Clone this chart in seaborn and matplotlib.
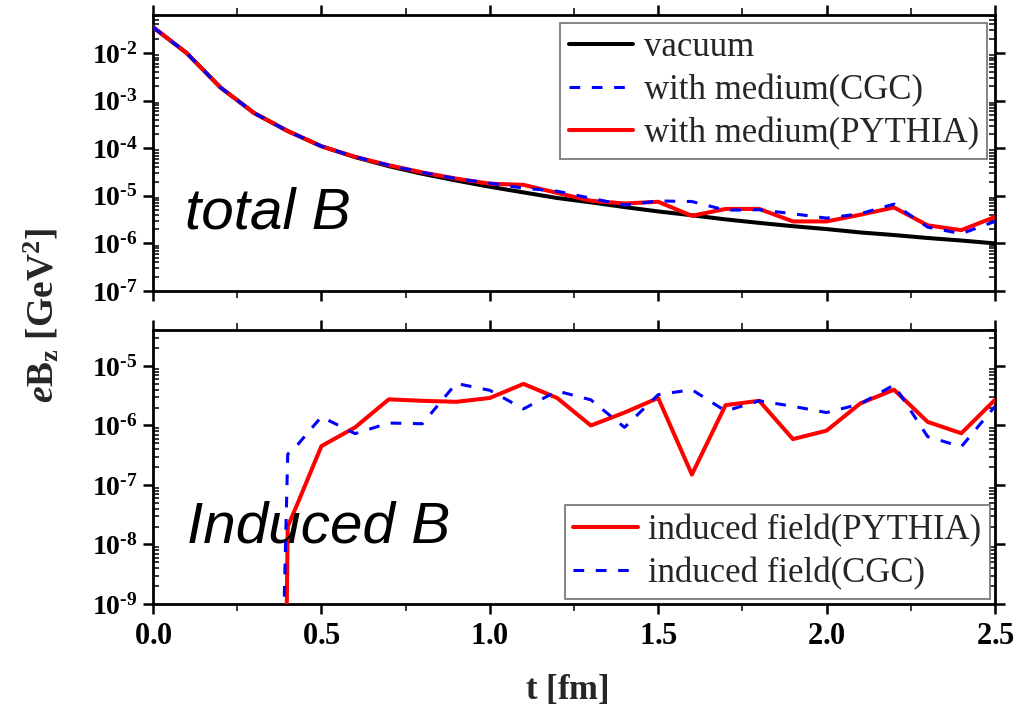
import numpy as np
import pandas as pd
import matplotlib
matplotlib.use("Agg")
import matplotlib.pyplot as plt
import seaborn as sns
from matplotlib.ticker import LogLocator, FixedLocator, FuncFormatter, NullFormatter

# ---------------- data ----------------
t_total = [0.0, 0.1, 0.2, 0.3, 0.4, 0.5, 0.6, 0.7, 0.8, 0.9, 1.0, 1.1, 1.2,
           1.3, 1.4, 1.5, 1.6, 1.7, 1.8, 1.9, 2.0, 2.1, 2.2, 2.3, 2.4, 2.5]
vacuum = [3.5e-2, 1.0e-2, 1.9e-3, 5.5e-4, 2.3e-4, 1.1e-4, 6.5e-5, 4.2e-5, 2.9e-5,
          2.1e-5, 1.55e-5, 1.18e-5, 9.0e-6, 7.3e-6, 5.8e-6, 4.7e-6, 3.9e-6, 3.2e-6,
          2.7e-6, 2.3e-6, 2.0e-6, 1.7e-6, 1.5e-6, 1.3e-6, 1.15e-6, 1.0e-6]
medium_cgc = [3.5e-2, 1.0e-2, 1.9e-3, 5.5e-4, 2.3e-4, 1.1e-4, 6.6e-5, 4.4e-5, 3.1e-5,
              2.3e-5, 1.85e-5, 1.45e-5, 1.25e-5, 8.9e-6, 6.4e-6, 7.8e-6, 7.6e-6, 5.0e-6,
              5.1e-6, 4.2e-6, 3.4e-6, 4.2e-6, 6.7e-6, 2.2e-6, 1.6e-6, 2.9e-6]
medium_pythia = [3.5e-2, 1.0e-2, 1.9e-3, 5.5e-4, 2.3e-4, 1.1e-4, 6.6e-5, 4.4e-5, 3.1e-5,
                 2.3e-5, 1.8e-5, 1.7e-5, 1.15e-5, 7.9e-6, 6.9e-6, 7.5e-6, 3.8e-6, 5.3e-6,
                 5.3e-6, 2.9e-6, 2.9e-6, 4.0e-6, 5.7e-6, 2.4e-6, 1.9e-6, 3.6e-6]

t_ind_pythia = [0.395, 0.40, 0.43, 0.5, 0.6, 0.7, 0.8, 0.9, 1.0, 1.1, 1.2, 1.3, 1.4,
                1.5, 1.6, 1.7, 1.8, 1.9, 2.0, 2.1, 2.2, 2.3, 2.4, 2.5]
ind_pythia = [1e-10, 2.0e-8, 5.0e-8, 4.5e-7, 9.3e-7, 2.75e-6, 2.6e-6, 2.5e-6, 2.9e-6,
              5.0e-6, 2.9e-6, 1.0e-6, 1.65e-6, 2.9e-6, 1.5e-7, 2.2e-6, 2.6e-6, 5.9e-7,
              8.2e-7, 2.35e-6, 4.0e-6, 1.15e-6, 7.4e-7, 2.7e-6]
t_ind_cgc = [0.385, 0.40, 0.43, 0.5, 0.6, 0.7, 0.8, 0.9, 1.0, 1.1, 1.2, 1.3, 1.4,
             1.5, 1.6, 1.7, 1.8, 1.9, 2.0, 2.1, 2.2, 2.3, 2.4, 2.5]
ind_cgc = [1e-10, 3.3e-7, 4.8e-7, 1.4e-6, 7.3e-7, 1.1e-6, 1.07e-6, 5.1e-6, 3.9e-6,
           1.9e-6, 3.8e-6, 2.7e-6, 9.3e-7, 3.3e-6, 4.0e-6, 1.75e-6, 2.6e-6, 2.1e-6,
           1.65e-6, 2.3e-6, 4.8e-6, 6.5e-7, 4.4e-7, 2.1e-6]

x_ticks = [0.0, 0.5, 1.0, 1.5, 2.0, 2.5]
top_decades = [-7, -6, -5, -4, -3, -2]
bot_decades = [-9, -8, -7, -6, -5]

# ---------------- style ----------------
sns.set_theme(style="ticks")
plt.rcParams["font.family"] = ["Liberation Serif", "DejaVu Serif"]
plt.rcParams["mathtext.fontset"] = "custom"
plt.rcParams["mathtext.rm"] = "Liberation Serif:bold"
plt.rcParams["mathtext.bf"] = "Liberation Serif:bold"
plt.rcParams["mathtext.it"] = "Liberation Serif:bold:italic"

RED = "#FF0000"
BLUE = "#0000FF"
BLACK = "#000000"

fig = plt.figure(figsize=(10.17, 7.12), dpi=100)
L, R = 153 / 1017, 995 / 1017
ax1 = fig.add_axes([L, 1 - 291 / 712, R - L, (291 - 15) / 712])
ax2 = fig.add_axes([L, 1 - 604 / 712, R - L, (604 - 330) / 712])

df_top = pd.DataFrame({"t": t_total, "vac": vacuum, "cgc": medium_cgc, "py": medium_pythia})
df_py = pd.DataFrame({"t": t_ind_pythia, "v": ind_pythia})
df_cgc = pd.DataFrame({"t": t_ind_cgc, "v": ind_cgc})

dash = (0, (3.5, 3.8))

sns.lineplot(data=df_top, x="t", y="vac", ax=ax1, color=BLACK, linewidth=2.9,
             label="vacuum", sort=False, estimator=None)
sns.lineplot(data=df_top, x="t", y="cgc", ax=ax1, color=BLUE, linewidth=2.2,
             linestyle=dash, label="with medium(CGC)", sort=False, estimator=None, zorder=4)
sns.lineplot(data=df_top, x="t", y="py", ax=ax1, color=RED, linewidth=2.9,
             label="with medium(PYTHIA)", sort=False, estimator=None, zorder=3)

sns.lineplot(data=df_py, x="t", y="v", ax=ax2, color=RED, linewidth=2.9,
             label="induced field(PYTHIA)", sort=False, estimator=None, zorder=3)
sns.lineplot(data=df_cgc, x="t", y="v", ax=ax2, color=BLUE, linewidth=2.2,
             linestyle=dash, label="induced field(CGC)", sort=False, estimator=None, zorder=4)

def log_fmt(v, pos):
    e = int(round(np.log10(v)))
    return "$\\mathbf{10^{\u2010%d}}$" % abs(e)

for ax, decs, ylim in [(ax1, top_decades, (1e-7, 10 ** -1.2)),
                        (ax2, bot_decades, (1e-9, 10 ** -4.395))]:
    ax.set_yscale("log")
    ax.set_xlim(0.0, 2.5)
    ax.set_ylim(*ylim)
    ax.yaxis.set_major_locator(FixedLocator([10.0 ** d for d in decs]))
    ax.yaxis.set_major_formatter(FuncFormatter(log_fmt))
    ax.yaxis.set_minor_locator(LogLocator(base=10, subs=np.arange(2, 10), numticks=30))
    ax.yaxis.set_minor_formatter(NullFormatter())
    ax.xaxis.set_major_locator(FixedLocator(x_ticks))
    ax.xaxis.set_minor_locator(FixedLocator([0.25, 0.75, 1.25, 1.75, 2.25]))
    ax.set_xlabel("")
    ax.set_ylabel("")
    for s in ax.spines.values():
        s.set_linewidth(2.0)
        s.set_color("black")
        s.set_visible(True)
    ax.tick_params(axis="y", which="major", direction="out", length=7, width=1.8,
                   labelsize=20, colors="black", pad=4)
    ax.tick_params(axis="x", which="major", direction="out", length=7, width=1.8,
                   labelsize=22, colors="black", pad=6)
    ax.tick_params(axis="both", which="minor", direction="in", length=4, width=1.3)
    ax.tick_params(axis="x", which="minor", direction="out", length=5)
    ax.tick_params(top=True, right=True, which="both")
    ax.grid(False)

ax1.tick_params(axis="x", which="both", labelbottom=False)
ax2.xaxis.set_major_formatter(FuncFormatter(lambda v, p: r"$\mathbf{%.1f}$" % v))

# panel annotations
ax1.text(0.038, 0.225, "total B", transform=ax1.transAxes, fontsize=42,
         fontstyle="italic", family=["Liberation Sans", "DejaVu Sans"],
         color="black", va="baseline", ha="left")
ax2.text(0.04, 0.226, "Induced B", transform=ax2.transAxes, fontsize=42,
         fontstyle="italic", family=["Liberation Sans", "DejaVu Sans"],
         color="black", va="baseline", ha="left")

leg_kw = dict(frameon=True, fancybox=False, edgecolor="#6f6f6f", framealpha=1,
              prop={"family": "Liberation Serif", "size": 25}, handlelength=1.85,
              handletextpad=0.3, labelspacing=0.28, borderpad=0.25)
lg1 = ax1.legend(loc="upper right", borderaxespad=0.22, **leg_kw)
lg2 = ax2.legend(loc="lower right", borderaxespad=0.15, **leg_kw)
for lg in (lg1, lg2):
    lg.get_frame().set_linewidth(1.2)

fig.text(42 / 1017, 1 - 315 / 712, r"$\mathit{e}\mathbf{B_z}$ $\mathbf{[GeV^2]}$",
         rotation=90, fontsize=27, ha="center", va="center")
fig.text(567 / 1017, 1 - 690 / 712, r"$\mathbf{t\ [fm]}$", fontsize=25,
         ha="center", va="center")

fig.savefig("out.png", dpi=100)
